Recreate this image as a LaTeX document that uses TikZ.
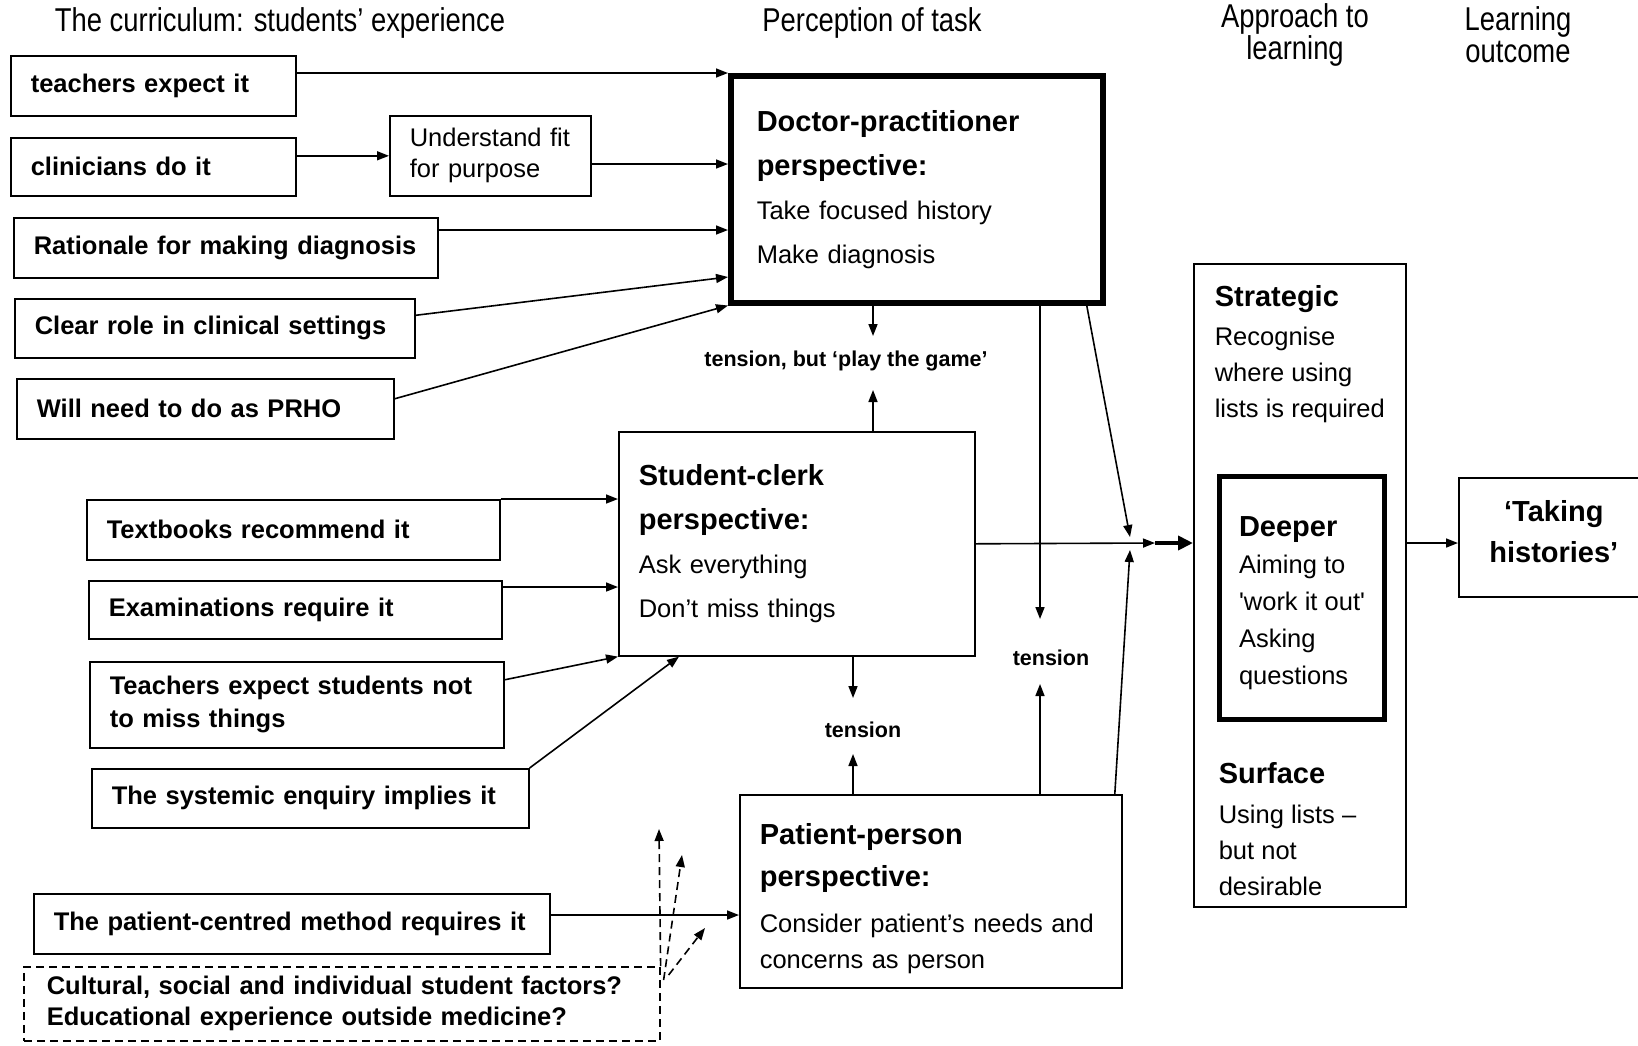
\documentclass[tikz,border=0pt]{standalone}
\usepackage{fontspec}
\setmainfont{Liberation Sans}
\newfontfamily\narrowfam{Liberation Sans}[FakeStretch=0.83]
\usetikzlibrary{arrows.meta,positioning}
\newcommand{\colfont}{\narrowfam\fontsize{33}{32}\selectfont}
\newcommand{\lblfont}{\fontsize{25.5}{31}\selectfont\bfseries}
\newcommand{\ttlfont}{\fontsize{29}{36}\selectfont\bfseries}
\newcommand{\tenfont}{\fontsize{21.5}{26}\selectfont\bfseries}

\begin{document}
\begin{tikzpicture}[x=1pt,y=-1pt,line width=1.6pt,
    >={Triangle[length=12pt,width=9pt]},
    lbl/.style={draw,anchor=north west,inner xsep=20pt,inner ysep=0pt,align=left,font=\lblfont},
    persp/.style={draw,anchor=north west,inner xsep=20pt,inner ysep=0pt,align=left,
      font=\fontsize{25.5}{44}\selectfont},
    txt/.style={anchor=north west,inner sep=0pt,align=left,font=\fontsize{25.5}{36}\selectfont},
    col/.style={align=center,font=\colfont},
    tens/.style={font=\tenfont},
    fuzzy/.style={dash pattern=on 8pt off 5pt}]
  \useasboundingbox (0,0) rectangle (1638,1045);

  % column heads
  \node[col] (hcur) at (280,23) {The curriculum: students’ experience};
  \node[col] (hper) at (872,23) {Perception of task};
  \node[col] (happ) at (1295,35) {Approach to\\learning};
  \node[col] (hout) at (1518,35) {Learning\\outcome};

  % what the curriculum says
  \node[lbl,text width=245pt,minimum height=60pt] (tchr) at (10,55) {teachers expect it};
  \node[lbl,text width=245pt,minimum height=58pt] (clin) at (10,137) {clinicians do it};
  \node[lbl,text width=161pt,minimum height=80pt,font=\fontsize{25.5}{31}\selectfont] (fit) at (389,115)
    {Understand fit\\for purpose};
  \node[lbl,text width=384pt,minimum height=60pt] (rat) at (13,217) {Rationale for making diagnosis};
  \node[lbl,text width=360pt,minimum height=59pt] (role) at (14,298) {Clear role in clinical settings};
  \node[lbl,text width=337pt,minimum height=60pt] (prho) at (16,378) {Will need to do as PRHO};
  \node[lbl,text width=373pt,minimum height=60pt] (book) at (86,499) {Textbooks recommend it};
  \node[lbl,text width=373pt,minimum height=58pt] (exam) at (88,580) {Examinations require it};
  \node[lbl,text width=374pt,minimum height=86pt] (miss) at (89,661)
    {Teachers expect students not\\[2pt]to miss things};
  \node[lbl,text width=397pt,minimum height=59pt] (sys) at (91,768) {The systemic enquiry implies it};
  \node[lbl,text width=476pt,minimum height=60pt] (pcm) at (33,893) {The patient-centred method requires it};
  \node[lbl,fuzzy,text width=590pt,minimum height=74pt,inner xsep=23pt] (other) at (23,966)
    {Cultural, social and individual student factors?\\Educational experience outside medicine?};

  % the three perspectives
  \node[persp,line width=5.5pt,inner xsep=26pt,text width=320pt,minimum height=227pt] (doc) at (728,73)
    {{\ttlfont Doctor-practitioner\\perspective:}\\Take focused history\\Make diagnosis};
  \node[persp,text width=316pt,minimum height=224pt] (stu) at (618,431)
    {{\ttlfont Student-clerk\\perspective:}\\Ask everything\\Don’t miss things};
  \node[persp,text width=342pt,minimum height=193pt,font=\fontsize{25.5}{36}\selectfont] (pat) at (739,794)
    {{\ttlfont \rule{0pt}{35pt}Patient-person\\[6pt]perspective:}\\[10pt]Consider patient’s needs and\\concerns as person};

  \node[tens] (tgame) at (846,361) {tension, but ‘play the game’};
  \node[tens] (tlow) at (863,730) {tension};
  \node[tens] (tright) at (1051,658) {tension};

  % approach and outcome
  \node[draw,anchor=north west,minimum width=212pt,minimum height=643pt,inner sep=0pt] (appr) at (1193,263) {};
  \node[txt] (strat) at (1214,285) {{\ttlfont Strategic}\\[3pt]Recognise\\where using\\lists is required};
  \node[draw,line width=5pt,anchor=north west,minimum width=165pt,minimum height=243pt,align=left,
    font=\fontsize{25.5}{37}\selectfont] (deep) at (1217,474)
    {{\ttlfont \rule{0pt}{31pt}Deeper}\\Aiming to\\\textquotesingle work it out\textquotesingle\\Asking\\questions};
  \node[txt] (surf) at (1218,762) {{\ttlfont Surface}\\[4pt]Using lists –\\but not\\desirable};
  \node[draw,anchor=north west,minimum width=190pt,minimum height=119pt,align=center,
    font=\fontsize{29}{41}\selectfont\bfseries] (take) at (1458,477)
    {‘Taking\\histories’\rule[-12pt]{0pt}{12pt}};

  % arrow ends
  \coordinate (d2) at (728,164);
  \coordinate (d3) at (728,230);
  \coordinate (d4) at (728,277);
  \coordinate (s2) at (618,587);
  \coordinate (p1) at (739,915);
  \coordinate (g1) at (873,336);
  \coordinate (g2) at (873,390);
  \coordinate (l1) at (853,698);
  \coordinate (l2) at (853,754);
  \coordinate (r1) at (1040,619);
  \coordinate (r2) at (1040,684);
  \coordinate (meet) at (1130,543);
  \coordinate (q1) at (659,829);
  \coordinate (q2) at (682,855);
  \coordinate (q3) at (705,928);

  \draw[->] (tchr.east |- doc.north west) -- (doc.north west);
  \draw[->] (clin.east |- fit.west) -- (fit.west);
  \draw[->] (fit.east |- d2) -- (d2);
  \draw[->] (rat.east |- d3) -- (d3);
  \draw[->] ([yshift=13pt]role.east) -- (d4);
  \draw[->] ([yshift=10pt]prho.east) -- (doc.south west);

  \draw[->] (book.north east) -- (stu.west |- book.north east);
  \draw[->] (exam.east |- s2) -- (s2);
  \draw[->] ([yshift=25pt]miss.east) -- (stu.south west);
  \draw[->] (sys.north east) -- ([xshift=61pt]stu.south west);
  \draw[->] (pcm.east |- p1) -- (p1);

  \draw[->,fuzzy] (other.north east) -- (q1);
  \draw[->,fuzzy] ([shift={(3pt,-14pt)}]other.north east) -- (q2);
  \draw[->,fuzzy] ([shift={(8pt,-9pt)}]other.north east) -- (q3);

  % tensions between perspectives
  \draw[->] (doc.south -| g1) -- (g1);
  \draw[->] (stu.north -| g2) -- (g2);
  \draw[->] (stu.south -| l1) -- (l1);
  \draw[->] (pat.north -| l2) -- (l2);
  \draw[->] (doc.south -| r1) -- (r1);
  \draw[->] (pat.north -| r2) -- (r2);

  % all three feed the approach
  \draw[->] ([xshift=170pt]doc.south) -- ([yshift=6pt]meet);
  \draw[->] ([xshift=184pt]pat.north) -- ([yshift=-7pt]meet);
  \draw[->] (stu.east) -- ([xshift=25pt]meet);
  \draw[-{Triangle[length=15pt,width=14pt]},line width=4.5pt] ([xshift=25pt]meet) -- (appr.west |- meet);
  \draw[->] (appr.east |- meet) -- (take.west |- meet);
\end{tikzpicture}
\end{document}
